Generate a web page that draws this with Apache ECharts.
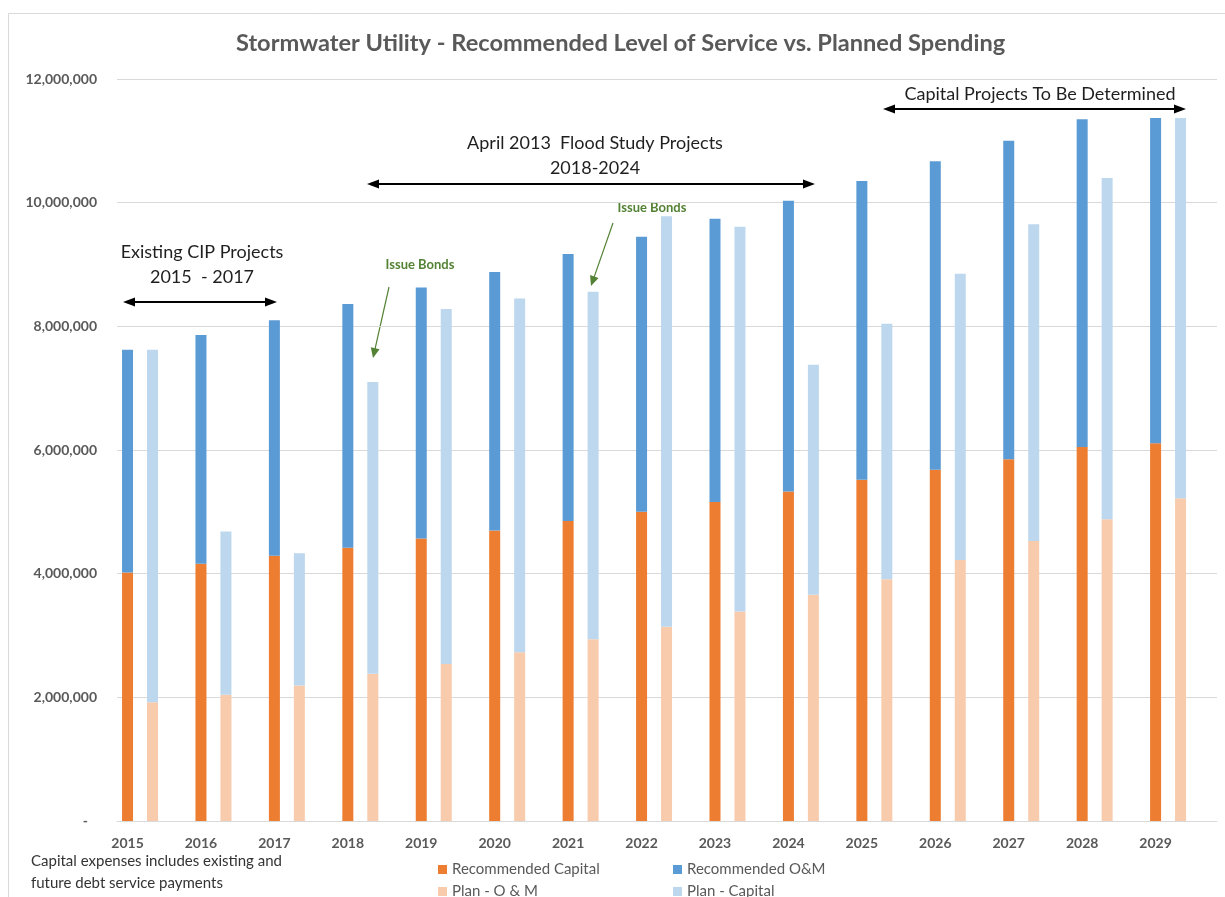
<!DOCTYPE html>
<html>
<head>
<meta charset="utf-8">
<script src="https://cdn.jsdelivr.net/npm/echarts@6/dist/echarts.min.js"></script>
<style>
  html, body { margin: 0; padding: 0; background: #ffffff; }
  #chart { width: 1225px; height: 897px; }
</style>
</head>
<body>
<div id="chart"></div>
<script>
// ---- Data ----
const years = ['2015','2016','2017','2018','2019','2020','2021','2022','2023','2024','2025','2026','2027','2028','2029'];
const recommendedCapital = [4020000, 4160000, 4290000, 4420000, 4570000, 4700000, 4850000, 5000000, 5160000, 5330000, 5520000, 5680000, 5850000, 6050000, 6110000];
const recommendedOM      = [3600000, 3700000, 3810000, 3940000, 4060000, 4180000, 4320000, 4450000, 4580000, 4700000, 4830000, 4990000, 5150000, 5300000, 5260000];
const planOM             = [1920000, 2040000, 2190000, 2380000, 2540000, 2730000, 2940000, 3140000, 3390000, 3660000, 3910000, 4220000, 4530000, 4880000, 5220000];
const planCapital        = [5700000, 2640000, 2140000, 4720000, 5740000, 5720000, 5620000, 6640000, 6220000, 3720000, 4130000, 4630000, 5120000, 5520000, 6150000];
const yTicks = { min: 0, max: 12000000, interval: 2000000 };

const FONT = 'Lato, "Open Sans", sans-serif';
const GRAY = '#595959';

const chart = echarts.init(document.getElementById('chart'), null, { renderer: 'canvas' });

function head(tipX, tipY, fromX, fromY, len, half, color) {
  const dx = tipX - fromX, dy = tipY - fromY;
  const d = Math.hypot(dx, dy);
  const ux = dx / d, uy = dy / d;
  const bx = tipX - ux * len, by = tipY - uy * len;
  return {
    type: 'polygon',
    shape: { points: [[tipX, tipY], [bx - uy * half, by + ux * half], [bx + uy * half, by - ux * half]] },
    style: { fill: color }
  };
}
function doubleArrow(x1, x2, y) {
  return {
    type: 'group',
    children: [
      { type: 'line', shape: { x1: x1 + 8, y1: y, x2: x2 - 8, y2: y }, style: { stroke: '#000', lineWidth: 2 } },
      head(x1, y, x2, y, 12, 4.5, '#000'),
      head(x2, y, x1, y, 12, 4.5, '#000')
    ]
  };
}
function singleArrow(x1, y1, x2, y2, color) {
  const dx = x2 - x1, dy = y2 - y1, d = Math.hypot(dx, dy);
  return {
    type: 'group',
    children: [
      { type: 'line', shape: { x1: x1, y1: y1, x2: x2 - dx / d * 6, y2: y2 - dy / d * 6 }, style: { stroke: color, lineWidth: 1.2 } },
      head(x2, y2, x1, y1, 10, 4.5, color)
    ]
  };
}
function label(text, x, y, size, color, weight) {
  return {
    type: 'text', x: x, y: y,
    style: { text: text, fill: color, font: (weight || 'normal') + ' ' + size + 'px ' + FONT, textAlign: 'center', textVerticalAlign: 'middle', lineHeight: 25 }
  };
}

const legendBase = {
  icon: 'rect', itemWidth: 9, itemHeight: 9, itemGap: 6,
  textStyle: { color: GRAY, fontSize: 15, fontFamily: FONT },
  selectedMode: false
};

const option = {
  animation: false,
  backgroundColor: '#ffffff',
  textStyle: { fontFamily: FONT },
  title: {
    text: 'Stormwater Utility - Recommended Level of Service vs. Planned Spending',
    left: 236, top: 31, padding: 0,
    textStyle: { fontSize: 23.6, fontWeight: 'bold', color: GRAY, fontFamily: FONT }
  },
  legend: [
    Object.assign({}, legendBase, { data: ['Recommended Capital'], left: 433, top: 857 }),
    Object.assign({}, legendBase, { data: ['Recommended O&M'], left: 668, top: 857 }),
    Object.assign({}, legendBase, { data: ['Plan - O & M'], left: 433, top: 879 }),
    Object.assign({}, legendBase, { data: ['Plan - Capital'], left: 668, top: 879 })
  ],
  grid: [
    { left: 103.3, top: 79, width: 1101.5, height: 742 },
    { left: 117, top: 79, width: 1100, height: 742 }
  ],
  xAxis: [
    {
      gridIndex: 0, type: 'category', data: years,
      axisLine: { show: false }, axisTick: { show: false },
      axisLabel: { padding: [0, 25, 0, 0], margin: 15, color: GRAY, fontWeight: 'bold', fontSize: 14, fontFamily: FONT }
    },
    {
      gridIndex: 1, type: 'category', data: years,
      axisLine: { show: true, lineStyle: { color: '#d9d9d9', width: 1 } },
      axisTick: { show: false }, axisLabel: { show: false }
    }
  ],
  yAxis: [
    { gridIndex: 0, type: 'value', min: yTicks.min, max: yTicks.max, show: false, splitLine: { show: false } },
    {
      gridIndex: 1, type: 'value', min: yTicks.min, max: yTicks.max, interval: yTicks.interval,
      axisLine: { show: false }, axisTick: { show: false },
      splitLine: { lineStyle: { color: '#d9d9d9', width: 1 } },
      axisLabel: {
        margin: 20, color: GRAY, fontWeight: 'bold', fontSize: 14, fontFamily: FONT,
        formatter: function (v) { return v === 0 ? '{d|-}' : v.toLocaleString('en-US'); },
        rich: { d: { padding: [0, 9, 0, 0], color: GRAY, fontWeight: 'bold', fontSize: 14 } }
      }
    }
  ],
  series: [
    { name: 'Recommended Capital', type: 'bar', stack: 'rec', xAxisIndex: 0, yAxisIndex: 0, barWidth: 11, barGap: '127%', itemStyle: { color: '#ED7D31' }, data: recommendedCapital },
    { name: 'Recommended O&M', type: 'bar', stack: 'rec', xAxisIndex: 0, yAxisIndex: 0, barWidth: 11, barGap: '127%', itemStyle: { color: '#5B9BD5' }, data: recommendedOM },
    { name: 'Plan - O & M', type: 'bar', stack: 'plan', xAxisIndex: 0, yAxisIndex: 0, barWidth: 11, barGap: '127%', itemStyle: { color: '#F8CBAD' }, data: planOM },
    { name: 'Plan - Capital', type: 'bar', stack: 'plan', xAxisIndex: 0, yAxisIndex: 0, barWidth: 11, barGap: '127%', itemStyle: { color: '#BDD7EE' }, data: planCapital }
  ],
  graphic: [
    { type: 'rect', silent: true, shape: { x: 8.5, y: 13.5, width: 1240, height: 920 }, style: { fill: 'none', stroke: '#d9d9d9', lineWidth: 1 } },
    label('Existing CIP Projects\n2015  - 2017', 202, 265, 18, '#1f1f1f'),
    doubleArrow(123, 277, 302),
    label('April 2013  Flood Study Projects\n2018-2024', 595, 156, 18, '#1f1f1f'),
    doubleArrow(367, 815, 184),
    label('Capital Projects To Be Determined', 1040, 94, 18, '#1f1f1f'),
    doubleArrow(883, 1186, 109),
    label('Issue Bonds', 420, 265, 13, '#548235', 'bold'),
    singleArrow(389, 287, 373, 358, '#548235'),
    label('Issue Bonds', 652, 208, 13, '#548235', 'bold'),
    singleArrow(613, 223, 591, 286, '#548235'),
    {
      type: 'text', left: 31, top: 850,
      style: { text: 'Capital expenses includes existing and\nfuture debt service payments', fill: '#333333', font: 'normal 15px ' + FONT, lineHeight: 22 }
    }
  ]
};
chart.setOption(option);
</script>
</body>
</html>
